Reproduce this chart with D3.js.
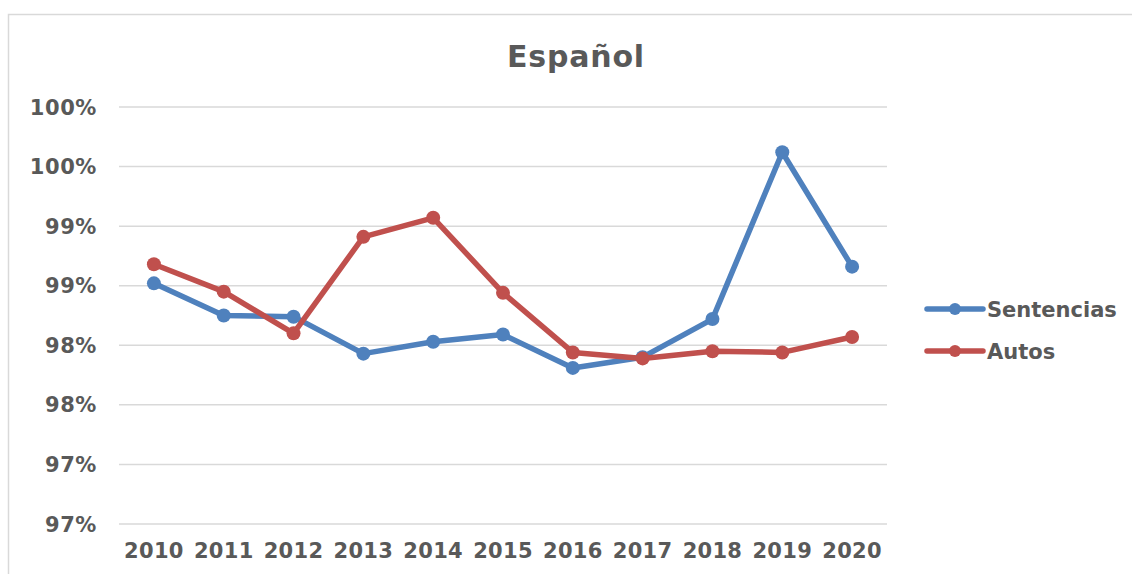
<!DOCTYPE html>
<html>
<head>
<meta charset="utf-8">
<script src="https://cdn.jsdelivr.net/npm/d3@7"></script>
<style>
  body { margin: 0; background: #fff; }
  text { font-family: "DejaVu Sans", Verdana, sans-serif; font-weight: bold; fill: #595959; }
</style>
</head>
<body>
<svg width="1132" height="574"></svg>
<script>
// categories and series values (percent)
var years = ["2010", "2011", "2012", "2013", "2014", "2015", "2016", "2017", "2018", "2019", "2020"];
var sentencias = [98.52, 98.25, 98.24, 97.93, 98.03, 98.09, 97.81, 97.90, 98.22, 99.62, 98.66];
var autos = [98.68, 98.45, 98.10, 98.91, 99.07, 98.44, 97.94, 97.89, 97.95, 97.94, 98.07];
var yTicks = [96.5, 97, 97.5, 98, 98.5, 99, 99.5, 100];

var svg = d3.select("svg"),
    width = +svg.attr("width"),
    height = +svg.attr("height");

var margin = {left: 119, right: 245, top: 107, bottom: 50};

// chart border
svg.append("rect")
    .attr("x", 8.5).attr("y", 14.5)
    .attr("width", width + 10).attr("height", height + 10)
    .attr("fill", "none")
    .attr("stroke", "#d9d9d9")
    .attr("stroke-width", 1.5);

var x = d3.scalePoint()
    .domain(years)
    .range([margin.left, width - margin.right])
    .padding(0.5);

var y = d3.scaleLinear()
    .domain([96.5, 100])
    .range([height - margin.bottom, margin.top]);

// gridlines
svg.append("g")
    .selectAll("line")
    .data(yTicks)
    .enter()
    .append("line")
    .attr("x1", margin.left)
    .attr("x2", width - margin.right)
    .attr("y1", function(d) { return y(d); })
    .attr("y2", function(d) { return y(d); })
    .attr("stroke", "#d9d9d9")
    .attr("stroke-width", 1.5);

// y labels
svg.append("g")
    .selectAll("text")
    .data(yTicks)
    .enter()
    .append("text")
    .attr("x", 97)
    .attr("y", function(d) { return y(d); })
    .attr("dy", "0.36em")
    .attr("text-anchor", "end")
    .style("font-size", "21px")
    .style("letter-spacing", "0.6px")
    .text(function(d) { return Math.round(d + 0.0001) + "%"; });

// x labels
svg.append("g")
    .selectAll("text")
    .data(years)
    .enter()
    .append("text")
    .attr("x", function(d) { return x(d); })
    .attr("y", 558)
    .attr("text-anchor", "middle")
    .style("font-size", "21px")
    .style("letter-spacing", "0.3px")
    .text(function(d) { return d; });

// title
svg.append("text")
    .attr("x", 576)
    .attr("y", 67)
    .attr("text-anchor", "middle")
    .style("font-size", "30px")
    .style("letter-spacing", "0.8px")
    .text("Español");

var series = [
    {name: "Sentencias", values: sentencias, color: "#4F81BD"},
    {name: "Autos", values: autos, color: "#C0504D"}
];

var line = d3.line()
    .x(function(d, i) { return x(years[i]); })
    .y(function(d) { return y(d); });

series.forEach(function(s) {
    svg.append("path")
        .datum(s.values)
        .attr("fill", "none")
        .attr("stroke", s.color)
        .attr("stroke-width", 5.5)
        .attr("stroke-linejoin", "round")
        .attr("d", line);

    svg.append("g")
        .selectAll("circle")
        .data(s.values)
        .enter()
        .append("circle")
        .attr("cx", function(d, i) { return x(years[i]); })
        .attr("cy", function(d) { return y(d); })
        .attr("r", 7)
        .attr("fill", s.color);
});

// legend
var legend = svg.append("g")
    .selectAll("g")
    .data(series)
    .enter()
    .append("g")
    .attr("transform", function(d, i) { return "translate(927," + (309 + i * 42) + ")"; });

legend.append("line")
    .attr("x1", 0).attr("x2", 56)
    .attr("stroke", function(d) { return d.color; })
    .attr("stroke-width", 5.5)
    .attr("stroke-linecap", "round");

legend.append("circle")
    .attr("cx", 28)
    .attr("r", 6)
    .attr("fill", function(d) { return d.color; });

legend.append("text")
    .attr("x", 60)
    .attr("dy", "0.36em")
    .style("font-size", "21px")
    .text(function(d) { return d.name; });
</script>
</body>
</html>
